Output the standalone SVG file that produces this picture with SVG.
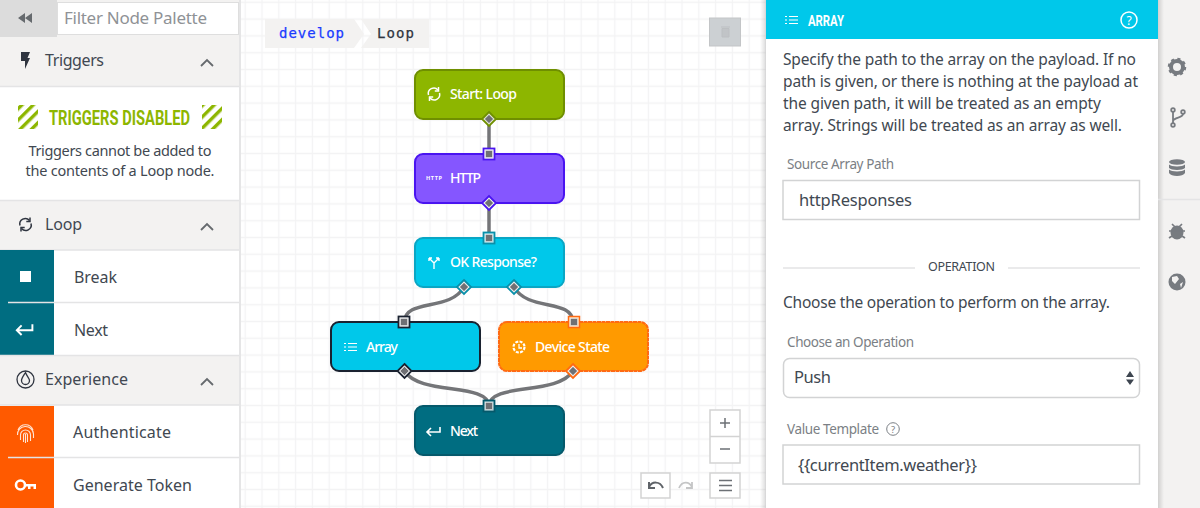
<svg xmlns="http://www.w3.org/2000/svg" width="1200" height="508" viewBox="0 0 1200 508">
<defs>
<pattern id="grid" x="253.600" y="-6.100" width="16.800" height="16.800" patternUnits="userSpaceOnUse"><path d="M0 8.400H16.800M8.400 0V16.800" fill="none" stroke="#f3f3f4" stroke-width="1.300"/></pattern>
<pattern id="hatch" width="8" height="8" patternUnits="userSpaceOnUse" patternTransform="rotate(45)"><rect width="8" height="8" fill="#fff"/><rect width="3.400" height="8" fill="#8db600"/></pattern>
<linearGradient id="sh" x1="0" x2="1"><stop offset="0" stop-color="#000" stop-opacity=".14"/><stop offset="1" stop-color="#000" stop-opacity="0"/></linearGradient>
<g id="list" fill="none" stroke="#fff" stroke-width="1.200"><path d="M4 1H13M4 4.500H13M4 8H13M0 1H2M0 4.500H2M0 8H2"/></g>
<g id="loop" fill="none" stroke-width="1.500"><path d="M-5.500 1A5.500 5.500 0 0 1 4 -4M5.500 -1A5.500 5.500 0 0 1 -4 4"/><path d="M4.500 -7V-3H0.800M-4.500 7V3H-0.800"/></g>
<g id="next" fill="none" stroke="#fff" stroke-width="1.600"><path d="M12 -4V1H-1M3 -3L-1 1L3 5"/></g>
</defs>
<style>
text{font-family:"Noto Sans","Open Sans","Liberation Sans",sans-serif;fill:#414851}
.h{font-size:16px}
.b{font-size:16px}
.w{fill:#fff;font-size:14px;font-weight:500}
.l{font-size:13.500px;fill:#7b7f85}
.ln{stroke:#e4e4e5;stroke-width:1.500;fill:none}
.in{fill:#fff;stroke:#d2d3d4;stroke-width:1.500}
.btn{fill:#fff;stroke:#d3d3d3;stroke-width:1.500}
.ic{fill:#777b80}
.wire{fill:none;stroke:#747578;stroke-width:3.500}
.port{fill:#6f7074;stroke:#e8e8e8;stroke-width:.6}
.node{stroke-width:2}
.mono{font-family:"DejaVu Sans Mono","Liberation Mono",monospace;font-size:14px;stroke-width:.25}
</style>
<rect width="1200" height="508" fill="#fff"/>
<rect x="240" width="526" height="508" fill="url(#grid)"/>

<g id="palette">
<rect width="240" height="508" fill="#fff"/>
<rect x="239" width="2" height="508" fill="#e5e5e6"/>
<rect width="239" height="37" fill="#f3f2f1"/>
<rect width="57" height="37" fill="#dcdcdc"/>
<path d="M25 13V23L18 18ZM32 13V23L25 18Z" fill="#666a6e"/>
<rect x="57.500" y="2.500" width="181" height="32" fill="#fff" stroke="#dedede"/>
<text x="64" y="24" style="fill:#8f9296;font-size:17px" textLength="143">Filter Node Palette</text>
<rect y="37" width="239" height="50" fill="#f3f2f1"/>
<path d="M0 86.500H239" class="ln"/>
<path d="M21 52H30L27.500 58H30L25 69V61H21Z" fill="#2f3540"/>
<text x="45" y="66" class="h" textLength="59">Triggers</text>
<path d="M201 66L207 60L213 66" fill="none" stroke="#666a6e" stroke-width="1.800"/>
<rect x="18" y="105" width="20" height="24" fill="url(#hatch)"/>
<rect x="202" y="105" width="20" height="24" fill="url(#hatch)"/>
<text x="49" y="125" style="fill:#8db600;font-family:'Roboto',sans-serif;font-size:21px;font-weight:700" textLength="141" lengthAdjust="spacingAndGlyphs">TRIGGERS DISABLED</text>
<text x="120" y="156" class="b" text-anchor="middle" style="font-size:14.500px" textLength="183">Triggers cannot be added to</text>
<text x="120" y="176" class="b" text-anchor="middle" style="font-size:14.500px" textLength="189">the contents of a Loop node.</text>
<rect y="201" width="239" height="49" fill="#f3f2f1"/>
<path d="M0 200.500H239M0 250H239" class="ln"/>
<g transform="translate(25.500 224.500)"><use href="#loop" stroke="#2f3540"/></g>
<text x="45" y="230" class="h" textLength="37">Loop</text>
<path d="M201 230L207 224L213 230" fill="none" stroke="#666a6e" stroke-width="1.800"/>
<rect y="250" width="54" height="106" fill="#006d81"/>
<path d="M8 302.500H54M54 302.500H239" class="ln"/>
<rect x="20" y="271" width="11" height="11" fill="#fff"/>
<text x="74" y="283" class="b" textLength="43">Break</text>
<g transform="translate(18 329) scale(1.200)"><use href="#next"/></g>
<text x="74" y="336" class="b" textLength="34">Next</text>
<rect y="356" width="239" height="49" fill="#f3f2f1"/>
<path d="M0 355.500H239M0 405H239" class="ln"/>
<circle cx="25.500" cy="379.500" r="8.500" fill="none" stroke="#2f3540" stroke-width="1.300"/>
<path d="M25.500 372.500C23 376.500 21.500 378.500 21.500 380.500A4 4 0 0 0 29.500 380.500C29.500 378.500 27 376.500 25.500 372.500Z" fill="none" stroke="#2f3540" stroke-width="1.300"/>
<text x="45" y="385" class="h" textLength="83">Experience</text>
<path d="M201 385L207 379L213 385" fill="none" stroke="#666a6e" stroke-width="1.800"/>
<rect y="406" width="54" height="102" fill="#ff5a00"/>
<path d="M8 457.500H54M54 457.500H239" class="ln"/>
<g fill="none" stroke="#ffe5d4" stroke-width="1.100"><path d="M18 430A8 8 0 0 1 33 430M17.500 435A8 8 0 0 1 33.500 434V438M20.500 440V435A5 5 0 0 1 30.500 435V441M23.500 442V435A2 2 0 0 1 27.500 435V442M25.500 434V443"/></g>
<circle cx="20.500" cy="485" r="4.500" fill="none" stroke="#fff" stroke-width="2.600"/>
<path d="M25 484H36V489H33.500V486.500H30.500V489H28V486.500H25Z" fill="#fff"/>
<text x="73" y="438" class="b" textLength="98">Authenticate</text>
<text x="73" y="491" class="b" textLength="119">Generate Token</text>
</g>

<g id="breadcrumb">
<path d="M265 19H354L364 34L354 48H265Z" fill="#f3f2f1"/>
<path d="M361 19H429V48H361L371 34Z" fill="#f3f2f1"/>
<text x="279" y="38" class="mono" style="fill:#1a3cff;stroke:#1a3cff" textLength="65">develop</text>
<text x="377" y="38" class="mono" style="fill:#2f3540;stroke:#2f3540" textLength="37">Loop</text>
</g>
<g id="delete-button">
<rect x="709.500" y="18" width="31" height="28" fill="#ccd0d3" stroke="#c3c5c7"/>
<path d="M721 27H730M722 28.500H729V37H722Z" fill="#c1c4c7" stroke="#bcbfc2"/>
</g>

<g id="connectors">
<path class="wire" d="M489 118V154"/>
<path class="wire" d="M489 202V238"/>
<path class="wire" d="M464 287C450 312 405 298 404.500 322"/>
<path class="wire" d="M514 287C528 312 572 298 573 322"/>
<path class="wire" d="M404.500 371C420 396 488 382 489 406"/>
<path class="wire" d="M573 371C557 396 490 382 489 406"/>
</g>

<g id="node-start">
<rect class="node" x="415" y="70" width="149" height="49" rx="8" fill="#8db600" stroke="#6f8f00"/>
<use href="#loop" x="434" y="94" stroke="#fff"/>
<text x="450" y="99" class="w" textLength="67">Start: Loop</text>
<path d="M489 112L496 119L489 126L482 119Z" fill="#e7efd0" stroke="#6f8f00" stroke-width="1.800"/>
<path d="M489 114.500L493.500 119L489 123.500L484.500 119Z" class="port"/>
</g>
<g id="node-http">
<rect class="node" x="415" y="154" width="149" height="49" rx="8" fill="#8556ff" stroke="#4a14f0"/>
<text x="426" y="180" style="fill:#fff;font-size:5.500px;font-weight:700" textLength="16">HTTP</text>
<text x="450" y="183" class="w" textLength="31">HTTP</text>
<rect x="483.500" y="148.500" width="11" height="11" fill="#fff" stroke="#4a14f0" stroke-width="1.800"/>
<rect x="485.500" y="150.500" width="7" height="7" class="port"/>
<path d="M489 196L496 203L489 210L482 203Z" fill="#fff" stroke="#4a14f0" stroke-width="1.800"/>
<path d="M489 198.500L493.500 203L489 207.500L484.500 203Z" class="port"/>
</g>
<g id="node-ok">
<rect class="node" x="415" y="238" width="149" height="49" rx="8" fill="#00c8ea" stroke="#0aa6c4"/>
<path d="M429 258L434 263L439 258M434 263V269M429 258H432M429 258V261M439 258H436M439 258V261" fill="none" stroke="#fff" stroke-width="1.400"/>
<text x="450" y="267" class="w" textLength="87">OK Response?</text>
<rect x="483.500" y="232.500" width="11" height="11" fill="#bfeef7" stroke="#0a8fa9" stroke-width="1.800"/>
<rect x="485.500" y="234.500" width="7" height="7" class="port"/>
<path d="M464 280L471 287L464 294L457 287Z" fill="#fff" stroke="#0a8fa9" stroke-width="1.800"/>
<path d="M464 282.500L468.500 287L464 291.500L459.500 287Z" class="port"/>
<path d="M514 280L521 287L514 294L507 287Z" fill="#fff" stroke="#0a8fa9" stroke-width="1.800"/>
<path d="M514 282.500L518.500 287L514 291.500L509.500 287Z" class="port"/>
</g>
<g id="node-array">
<rect class="node" x="331" y="322" width="149" height="49" rx="8" fill="#00c8ea" stroke="#1a2230"/>
<use href="#list" x="344" y="342.500"/>
<text x="366" y="351.500" class="w" textLength="32">Array</text>
<rect x="398.500" y="316.500" width="11" height="11" fill="#fff" stroke="#1a2230" stroke-width="1.800"/>
<rect x="400.500" y="318.500" width="7" height="7" class="port"/>
<path d="M404.500 364L411.500 371L404.500 378L397.500 371Z" fill="#fff" stroke="#1a2230" stroke-width="1.800"/>
<path d="M404.500 366.500L409 371L404.500 375.500L400 371Z" class="port"/>
</g>
<g id="node-device">
<rect class="node" x="499" y="322" width="149" height="49" rx="8" fill="#ff9a00" stroke="#ff6a13" stroke-dasharray="4 .5"/>
<circle cx="519" cy="347" r="5.500" fill="none" stroke="#fff" stroke-width="2.200" stroke-dasharray="3 1.300"/>
<path d="M519 344V348H522" fill="none" stroke="#fff" stroke-width="1.300"/>
<text x="535" y="351.500" class="w" textLength="75">Device State</text>
<rect x="568.500" y="316.500" width="11" height="11" fill="#ffe6c4" stroke="#ff6a13" stroke-width="1.500"/>
<rect x="570.500" y="318.500" width="7" height="7" class="port"/>
<path d="M573 364L580 371L573 378L566 371Z" fill="#fff" stroke="#ff6a13" stroke-width="1.800"/>
<path d="M573 366.500L577.500 371L573 375.500L568.500 371Z" class="port"/>
</g>
<g id="node-next">
<rect class="node" x="415" y="406" width="149" height="49" rx="8" fill="#006d81" stroke="#05596b"/>
<use href="#next" x="428" y="431"/>
<text x="450" y="435.500" class="w" textLength="28">Next</text>
<rect x="483.500" y="400.500" width="11" height="11" fill="#b5d5db" stroke="#05596b" stroke-width="1.800"/>
<rect x="485.500" y="402.500" width="7" height="7" class="port"/>
</g>

<g id="zoom-controls">
<rect class="btn" x="710" y="410" width="30" height="53"/>
<path d="M710 436.500H740" stroke="#d3d3d3" stroke-width="1.500"/>
<path d="M720 423H730M725 418V428M720 449H730" stroke="#6c7075" stroke-width="1.500" fill="none"/>
<rect class="btn" x="641" y="473" width="29" height="25"/>
<path d="M649 482V488H655M649 487C652 481 660 481 663 488" fill="none" stroke="#5f6368" stroke-width="2"/>
<path d="M692 482V488H686M692 487C689 481 682 481 679 488" fill="none" stroke="#c4c5c6" stroke-width="1.800"/>
<rect class="btn" x="710" y="473" width="30" height="25"/>
<path d="M719 480.500H732M719 485.500H732M719 490.500H732" stroke="#6c7075" stroke-width="1.500"/>
</g>

<g id="right-rail">
<rect x="1158" width="42" height="508" fill="#f3f2f1"/>
<rect x="1158" y="0" width="6" height="508" fill="url(#sh)"/>
<path d="M1158 199.500H1200" class="ln"/>
<circle cx="1177" cy="67" r="6" fill="none" stroke="#777b80" stroke-width="4"/>
<circle cx="1177" cy="67" r="8" fill="none" stroke="#777b80" stroke-width="2.500" stroke-dasharray="3 3.300"/>
<g fill="none" stroke="#777b80" stroke-width="1.800"><circle cx="1173" cy="110" r="1.800"/><circle cx="1173" cy="125" r="1.800"/><circle cx="1183" cy="112" r="1.800"/><path d="M1173 112V123M1173 121C1174 117 1183 118 1183 114"/></g>
<g class="ic"><ellipse cx="1177" cy="162" rx="8" ry="2.800"/><path d="M1169 164.500C1171 167 1183 167 1185 164.500V168C1183 170.500 1171 170.500 1169 168ZM1169 169.500C1171 172 1183 172 1185 169.500V173C1183 177 1171 177 1169 173Z"/></g>
<g class="ic"><ellipse cx="1177" cy="232.500" rx="6.500" ry="7"/><path d="M1172 224L1175 227M1182 224L1179 227M1169 231H1185M1169 238L1172 236M1185 238L1182 236" stroke="#777b80" stroke-width="1.700"/></g>
<circle class="ic" cx="1177" cy="282" r="8.500"/>
<path d="M1172 277L1177 276L1179 279L1175 284L1172 281ZM1180 284L1183 282L1181 288Z" fill="#f3f2f1"/>
</g>

<g id="inspector">
<rect x="766" width="392" height="508" fill="#fff"/>
<rect x="760" width="6" height="508" fill="url(#sh)" transform="matrix(-1 0 0 1 1526 0)"/>
<rect x="766" width="392" height="39" fill="#00c8ea"/>
<use href="#list" x="785" y="15.500"/>
<text x="808" y="25.500" style="fill:#fff;font-family:'Roboto',sans-serif;font-size:15.500px;font-weight:700" textLength="36" lengthAdjust="spacingAndGlyphs">ARRAY</text>
<circle cx="1129" cy="20" r="8" fill="none" stroke="#fff" stroke-width="1.500"/>
<text x="1129" y="24.500" text-anchor="middle" style="fill:#fff;font-size:12px">?</text>
<text x="783" y="65" class="b" style="font-size:15.500px" textLength="353">Specify the path to the array on the payload. If no</text>
<text x="783" y="87" class="b" style="font-size:15.500px" textLength="355">path is given, or there is nothing at the payload at</text>
<text x="783" y="109" class="b" style="font-size:15.500px" textLength="318">the given path, it will be treated as an empty</text>
<text x="783" y="130.500" class="b" style="font-size:15.500px" textLength="339">array. Strings will be treated as an array as well.</text>
<text x="787" y="169" class="l" textLength="107">Source Array Path</text>
<rect class="in" x="783" y="180.500" width="356.500" height="39"/>
<text x="799" y="206" class="b" style="font-size:16.500px" textLength="113">httpResponses</text>
<path d="M783 268H915M1008 268H1140" class="ln"/>
<text x="961.500" y="271" text-anchor="middle" style="font-size:12.500px" textLength="67">OPERATION</text>
<text x="783" y="308" class="b" style="font-size:15.500px" textLength="327">Choose the operation to perform on the array.</text>
<text x="787" y="347" class="l" textLength="127">Choose an Operation</text>
<rect class="in" x="783.500" y="358.500" width="356" height="39" rx="6"/>
<text x="794" y="383" class="b" style="font-size:16.500px" textLength="37">Push</text>
<path d="M1130 371L1134 377H1126ZM1130 385L1134 379.500H1126Z" fill="#3d4550"/>
<text x="787" y="434" class="l" textLength="92">Value Template</text>
<circle cx="893" cy="429" r="6.300" fill="none" stroke="#7b7f85" stroke-width="1"/>
<text x="893" y="432.500" text-anchor="middle" style="font-size:9.500px;fill:#7b7f85">?</text>
<rect class="in" x="783" y="445" width="356.500" height="39"/>
<text x="798" y="471" class="b" style="font-size:16.500px" textLength="179">{{currentItem.weather}}</text>
</g>
</svg>
